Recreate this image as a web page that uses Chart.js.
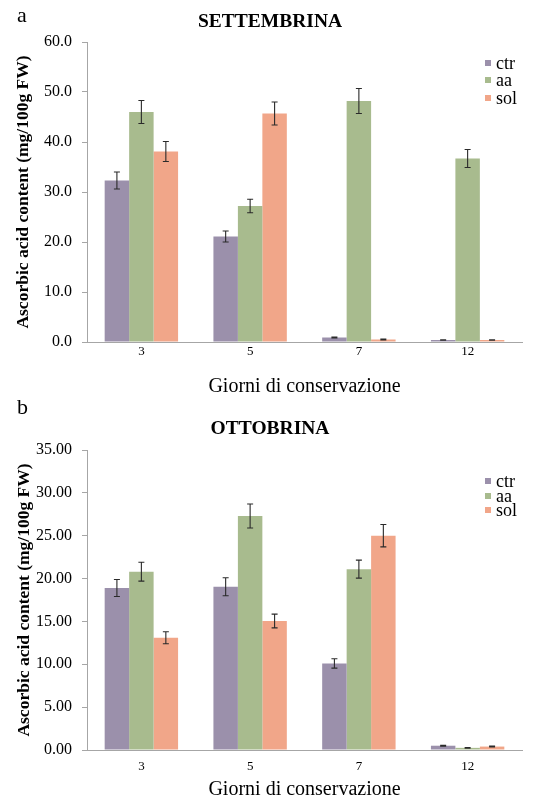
<!DOCTYPE html>
<html>
<head>
<meta charset="utf-8">
<script src="https://cdn.jsdelivr.net/npm/chart.js@4"></script>
<style>
  body { margin: 0; background: #fff; }
  #page { position: relative; width: 538px; height: 812px; font-family: 'Liberation Serif', 'Times New Roman', serif; color: #000; }
  .panel { position: absolute; left: 0; width: 538px; }
  .letter { position: absolute; font-size: 22px; line-height: 1; }
  .title { position: absolute; left: 0; width: 540px; text-align: center; font-weight: bold; font-size: 19.5px; line-height: 1; }
  .legend { position: absolute; left: 485px; font-size: 18px; }
  .legend div { display: flex; align-items: center; line-height: 1; }
  .legend span.box { display: inline-block; width: 6px; height: 6px; margin-right: 5px; }
</style>
</head>
<body>
<div id="page">
  <div class="panel" style="top:0;height:400px"><canvas id="chartA" width="538" height="400"></canvas></div>
  <div class="panel" style="top:400px;height:412px"><canvas id="chartB" width="538" height="412"></canvas></div>
  <div class="letter" style="left:17px;top:4px">a</div>
  <div class="title" style="top:11px">SETTEMBRINA</div>
  <div class="letter" style="left:17px;top:396px">b</div>
  <div class="title" style="top:418px">OTTOBRINA</div>
  <div class="legend" id="legendA" style="top:54px"></div>
  <div class="legend" id="legendB" style="top:474px"></div>
</div>
<script>
const days = ['3', '5', '7', '12'];
const seriesNames = ['ctr', 'aa', 'sol'];
const seriesColors = ['#9b90ab', '#a8bb8e', '#f1a689'];

// SETTEMBRINA
const setCtr = [32.3, 21.1, 0.9, 0.4];
const setAa = [46.0, 27.2, 48.2, 36.7];
const setSol = [38.1, 45.7, 0.5, 0.4];
const setCtrErr = [1.7, 1.1, 0.1, 0.05];
const setAaErr = [2.3, 1.35, 2.5, 1.8];
const setSolErr = [2.0, 2.3, 0.1, 0.05];

// OTTOBRINA
const ottCtr = [18.9, 19.05, 10.1, 0.5];
const ottAa = [20.8, 27.3, 21.1, 0.25];
const ottSol = [13.1, 15.05, 25.0, 0.4];
const ottCtrErr = [1.0, 1.05, 0.55, 0.05];
const ottAaErr = [1.1, 1.4, 1.05, 0.05];
const ottSolErr = [0.7, 0.8, 1.3, 0.05];

const serif = "'Liberation Serif', 'Times New Roman', serif";
const axisGray = '#a6a6a6';

// draws the +/- error whiskers on top of every bar
const errorBars = {
    id: 'errorBars',
    afterDatasetsDraw(chart) {
        const ctx = chart.ctx;
        const y = chart.scales.y;
        ctx.save();
        ctx.strokeStyle = '#2a2a2a';
        ctx.lineWidth = 1.1;
        chart.data.datasets.forEach((ds, di) => {
            chart.getDatasetMeta(di).data.forEach((bar, i) => {
                const v = ds.data[i], e = ds.errors[i];
                const top = y.getPixelForValue(v + e);
                const bot = y.getPixelForValue(v - e);
                ctx.beginPath();
                ctx.moveTo(bar.x, top); ctx.lineTo(bar.x, bot);
                ctx.moveTo(bar.x - 3, top); ctx.lineTo(bar.x + 3, top);
                ctx.moveTo(bar.x - 3, bot); ctx.lineTo(bar.x + 3, bot);
                ctx.stroke();
            });
        });
        ctx.restore();
    }
};

function makeChart(id, values, errors, opts) {
    return new Chart(document.getElementById(id), {
        type: 'bar',
        data: {
            labels: days,
            datasets: values.map((vals, k) => ({
                label: seriesNames[k],
                data: vals,
                errors: errors[k],
                backgroundColor: seriesColors[k],
                barPercentage: 1.0,
                categoryPercentage: 0.675
            }))
        },
        options: {
            responsive: false,
            animation: false,
            layout: { padding: { top: opts.top, right: 16, left: 0, bottom: 0 } },
            plugins: { legend: { display: false }, tooltip: { enabled: false } },
            scales: {
                x: {
                    grid: { display: false, drawTicks: false },
                    border: { display: true, color: axisGray, width: 1 },
                    ticks: { color: '#000', padding: opts.tickPad, font: { family: serif, size: 13 } },
                    title: {
                        display: true, text: 'Giorni di conservazione', color: '#000',
                        font: { family: serif, size: 20 }, padding: { top: 0, bottom: opts.titlePad }
                    },
                    afterFit: s => { s.height = opts.xHeight; }
                },
                y: {
                    min: 0, max: opts.max,
                    grid: { display: true, drawOnChartArea: false, drawTicks: true, tickLength: 5, color: axisGray },
                    border: { display: true, color: axisGray, width: 1 },
                    ticks: {
                        stepSize: opts.step, color: '#000', padding: 10,
                        font: { family: serif, size: 16 },
                        callback: v => v.toFixed(opts.decimals)
                    },
                    title: {
                        display: true, text: 'Ascorbic acid content (mg/100g FW)', color: '#000',
                        font: { family: serif, size: 17.5, weight: 'bold' }, padding: { top: opts.yTitleX, bottom: 0 }
                    },
                    afterFit: s => { s.width = 87; }
                }
            }
        },
        plugins: [errorBars]
    });
}

makeChart('chartA', [setCtr, setAa, setSol], [setCtrErr, setAaErr, setSolErr],
    { top: 42, xHeight: 58, tickPad: 2, titlePad: 1, max: 60, step: 10, decimals: 1, yTitleX: 13 });
makeChart('chartB', [ottCtr, ottAa, ottSol], [ottCtrErr, ottAaErr, ottSolErr],
    { top: 50, xHeight: 62, tickPad: 9, titlePad: 10, max: 35, step: 5, decimals: 2, yTitleX: 14 });

// legends
function buildLegend(id, gap) {
    const box = document.getElementById(id);
    seriesNames.forEach((name, k) => {
        const row = document.createElement('div');
        row.style.height = gap + 'px';
        const sw = document.createElement('span');
        sw.className = 'box';
        sw.style.background = seriesColors[k];
        row.appendChild(sw);
        row.appendChild(document.createTextNode(name));
        box.appendChild(row);
    });
}
buildLegend('legendA', 17.5);
buildLegend('legendB', 14.5);
</script>
</body>
</html>
